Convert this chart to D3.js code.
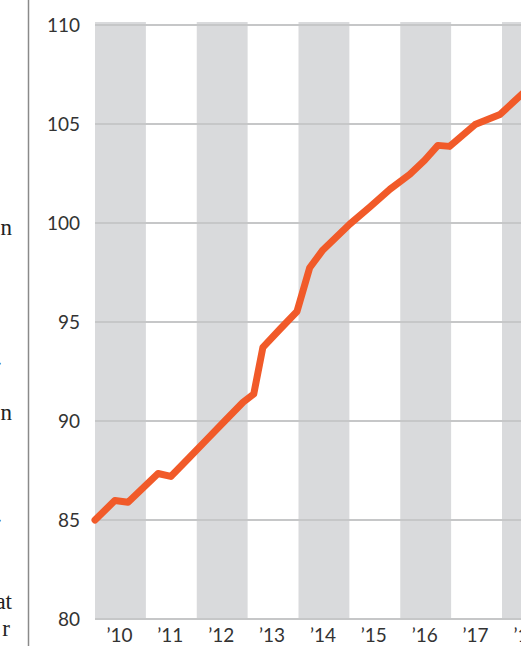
<!DOCTYPE html>
<html>
<head>
<meta charset="utf-8">
<script src="https://cdn.jsdelivr.net/npm/d3@7"></script>
<style>
  html, body { margin: 0; padding: 0; background: #fff; overflow: hidden; }
  svg { display: block; }
</style>
</head>
<body>
<div id="chart"></div>
<script>
// index values (x is a fractional year)
var dates = [2010.0, 2010.39, 2010.65, 2011.24, 2011.49, 2011.85, 2012.2, 2012.55,
  2012.91, 2013.12, 2013.30, 2013.63, 2013.97, 2014.22, 2014.48, 2015.01, 2015.4,
  2015.8, 2016.19, 2016.48, 2016.74, 2016.97, 2017.47, 2017.96, 2018.4];
var values = [85.0, 85.98, 85.9, 87.35, 87.2, 88.14, 89.07, 90.0,
  90.95, 91.36, 93.72, 94.62, 95.53, 97.74, 98.64, 99.95, 100.8,
  101.71, 102.46, 103.17, 103.92, 103.87, 104.97, 105.48, 106.53];
var years = [2010, 2011, 2012, 2013, 2014, 2015, 2016, 2017, 2018];
var yearLabels = ["\u201910", "\u201911", "\u201912", "\u201913", "\u201914", "\u201915", "\u201916", "\u201917", "\u201918"];
var yTicks = [80, 85, 90, 95, 100, 105, 110];

// cut-off words of the text column to the left
var sideText = [
  { t: "n", y: 235, x: 12 },
  { t: ".", y: 365, x: 2 },
  { t: "n", y: 420, x: 12 },
  { t: ".", y: 522, x: 2 },
  { t: "at", y: 609, x: 12 },
  { t: "r", y: 636, x: 10 }
];

(function() {
  "use strict";
  var WIDTH = 521, HEIGHT = 646;

  var svg = d3.select("#chart").append("svg")
      .attr("width", WIDTH)
      .attr("height", HEIGHT);

  var x = d3.scaleLinear().domain([2010, 2019]).range([95, 95 + 9 * 50.875]);
  var y = d3.scaleLinear().domain([80, 110]).range([619, 25]);

  // left rule + cropped text
  svg.append("line")
      .attr("x1", 28.5).attr("x2", 28.5)
      .attr("y1", 0).attr("y2", HEIGHT)
      .style("stroke", "#8a8a8a")
      .style("stroke-width", 1.5);

  svg.selectAll("text.side").data(sideText).enter()
    .append("text")
      .attr("class", "side")
      .attr("x", function(d) { return d.x; })
      .attr("y", function(d) { return d.y; })
      .attr("text-anchor", "end")
      .style("font-family", "'Liberation Serif', 'DejaVu Serif', serif")
      .style("font-size", "23px")
      .style("fill", "#222")
      .text(function(d) { return d.t; });

  // alternating year bands
  svg.selectAll("rect.band").data(years.filter(function(d, i) { return i % 2 === 0; })).enter()
    .append("rect")
      .attr("class", "band")
      .attr("x", function(d) { return x(d); })
      .attr("y", y(110) - 3)
      .attr("width", x(2011) - x(2010))
      .attr("height", y(80) - y(110) + 3)
      .style("fill", "#d9dadc");

  // horizontal grid
  svg.selectAll("line.grid").data(yTicks).enter()
    .append("line")
      .attr("class", "grid")
      .attr("x1", x(2010)).attr("x2", WIDTH)
      .attr("y1", function(d) { return y(d); })
      .attr("y2", function(d) { return y(d); })
      .style("stroke", "#c6c7c8")
      .style("stroke-width", 2);

  // y labels
  svg.selectAll("text.ylab").data(yTicks).enter()
    .append("text")
      .attr("class", "ylab")
      .attr("x", 80)
      .attr("y", function(d) { return y(d); })
      .attr("dy", "0.36em")
      .attr("text-anchor", "end")
      .style("font-family", "Lato, 'Open Sans', sans-serif")
      .style("font-size", "19px")
      .style("fill", "#333")
      .text(function(d) { return d; });

  // x labels
  svg.selectAll("text.xlab").data(years).enter()
    .append("text")
      .attr("class", "xlab")
      .attr("x", function(d) { return x(d + 0.5) - 1; })
      .attr("y", 635)
      .attr("dy", "0.36em")
      .attr("text-anchor", "middle")
      .style("font-family", "Lato, 'Open Sans', sans-serif")
      .style("font-size", "19px")
      .style("fill", "#333")
      .text(function(d, i) { return yearLabels[i]; });

  // the series
  var line = d3.line()
      .x(function(d) { return x(d[0]); })
      .y(function(d) { return y(d[1]); });

  svg.append("path")
      .datum(d3.zip(dates, values))
      .attr("d", line)
      .style("fill", "none")
      .style("stroke", "#f15a29")
      .style("stroke-width", 7)
      .style("stroke-linejoin", "round")
      .style("stroke-linecap", "round");
})();
</script>
</body>
</html>
